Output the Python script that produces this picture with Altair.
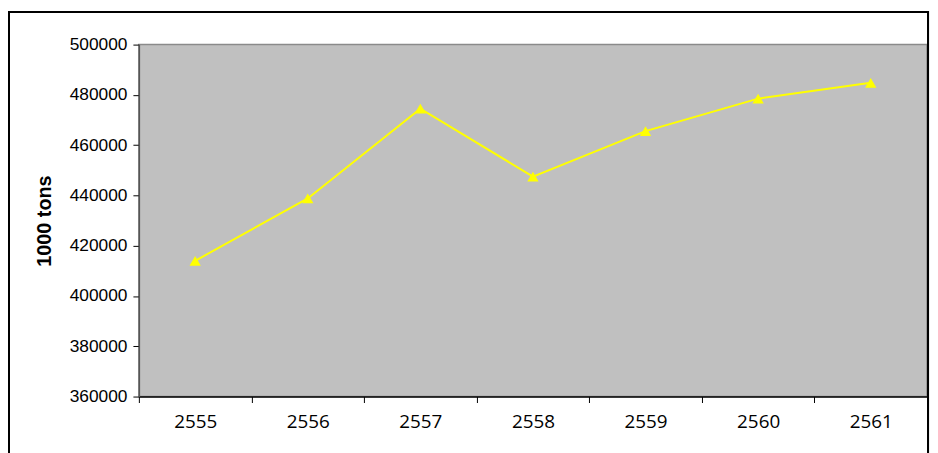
import altair as alt
import pandas as pd

years = ["2555", "2556", "2557", "2558", "2559", "2560", "2561"]
values = [414000, 438800, 474500, 447500, 465600, 478500, 484800]

df = pd.DataFrame({"year": years, "value": values})

x_enc = alt.X(
    "year:N",
    sort=years,
    title=None,
    scale=alt.Scale(paddingInner=0, paddingOuter=0),
    axis=alt.Axis(
        labelAngle=0,
        labelFont="Open Sans",
        labelFontSize=19,
        labelColor="#000000",
        labelPadding=10,
        tickBand="extent",
        tickSize=6,
        tickColor="#000000",
        domainColor="#000000",
        domainWidth=1.5,
        grid=False,
    ),
)
y_enc = alt.Y(
    "value:Q",
    title="1000 tons",
    scale=alt.Scale(domain=[360000, 500000], nice=False),
    axis=alt.Axis(
        values=list(range(360000, 500001, 20000)),
        format="d",
        labelFont="Liberation Sans",
        labelFontSize=17.5,
        labelColor="#000000",
        labelPadding=6,
        tickSize=6,
        tickColor="#000000",
        domainColor="#555555",
        domainWidth=1.5,
        grid=False,
        titleFont="Liberation Sans",
        titleFontSize=20,
        titleFontWeight="bold",
        titleColor="#000000",
        titlePadding=15,
    ),
)

frame = alt.Chart(df).mark_rect(
    fill=None, stroke="#000000", strokeWidth=2, clip=False
).encode(
    x=alt.value(-131), x2=alt.value(796), y=alt.value(-33), y2=alt.value(420)
)

line = alt.Chart(df).mark_line(color="#ffff00", strokeWidth=2).encode(x=x_enc, y=y_enc)
pts = alt.Chart(df).mark_point(
    shape="triangle-up", filled=True, color="#ffff00", size=130, opacity=1
).encode(x=x_enc, y=y_enc)

chart = (
    alt.layer(frame, line, pts)
    .properties(
        width=795,
        height=355,
        autosize=alt.AutoSizeParams(type="none"),
        padding={"left": 132, "top": 35, "right": 3, "bottom": 55},
        background="#ffffff",
    )
    .configure_view(fill="#c0c0c0", stroke="#8a8a8a", strokeWidth=1.5)
)

chart.save("out.html", embed_options={"renderer": "svg", "actions": False})
